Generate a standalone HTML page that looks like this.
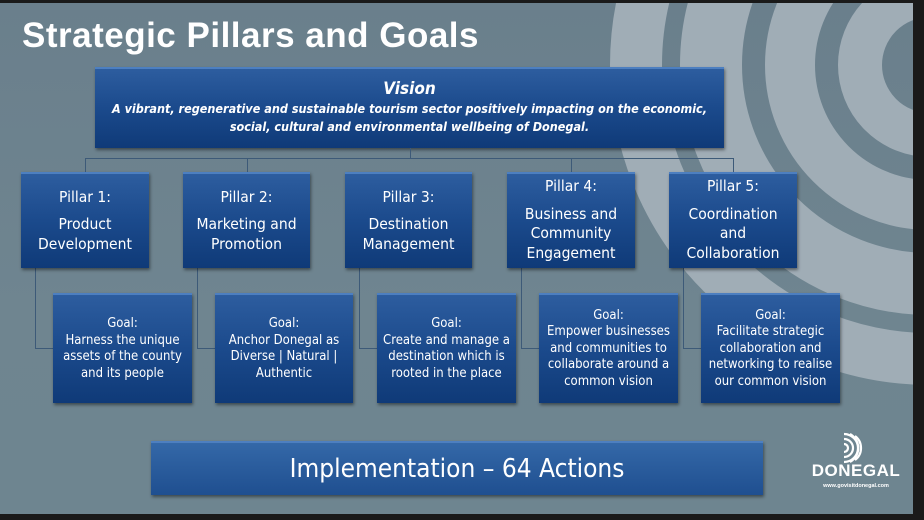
<!DOCTYPE html>
<html><head><meta charset="utf-8"><style>
*{margin:0;padding:0;box-sizing:border-box}
body{width:924px;height:520px;overflow:hidden;background:#1a1a1a;position:relative;font-family:"Liberation Sans",sans-serif}
#slide{position:absolute;left:0;top:3px;width:913px;height:511px;background:linear-gradient(180deg,#6a7f8c 0%,#6f8590 60%,#6e8590 100%);overflow:hidden}
.box{position:absolute;background:linear-gradient(180deg,#2d5d9f 0%,#1b4a8c 50%,#0f3a78 100%);border-top:2px solid #4d7fc0;box-shadow:1px 2px 3px rgba(0,0,0,.45);color:#fff;text-align:center;font-family:"DejaVu Sans Condensed","Liberation Sans Narrow","Liberation Sans",sans-serif}
.pill{top:169px;height:96px;font-size:15.5px;line-height:19.5px;display:flex;flex-direction:column;justify-content:center}
.goal{top:290px;height:110px;font-size:13px;line-height:16.5px;display:flex;flex-direction:column;justify-content:center}
.ln{position:absolute;background:#3d5a78}
h1{position:absolute;left:22px;top:13px;font-size:35px;font-weight:bold;color:#fff;letter-spacing:.5px;white-space:nowrap}
</style></head><body>
<div id="slide">
<svg width="913" height="511" style="position:absolute;left:0;top:0">
<g fill="none" stroke="#a0adb6">
<circle cx="930" cy="62" r="70" stroke-width="44"/>
<circle cx="930" cy="62" r="140" stroke-width="50"/>
<circle cx="930" cy="62" r="219" stroke-width="62"/>
<circle cx="930" cy="62" r="294" stroke-width="52"/>
</g>
</svg>
<h1>Strategic Pillars and Goals</h1>
<div class="box" style="left:95px;top:64px;width:629px;height:81px;padding-top:10px">
<div style="font-size:17px;font-weight:bold;font-style:italic;line-height:21px">Vision</div>
<div style="font-size:12.5px;font-weight:bold;font-style:italic;line-height:18px">A vibrant, regenerative and sustainable tourism sector positively impacting on the economic,<br>social, cultural and environmental wellbeing of Donegal.</div>
</div>
<div class="ln" style="left:410px;top:145px;width:1px;height:11px"></div>
<div class="ln" style="left:85px;top:155px;width:649px;height:1px"></div>
<div class="ln" style="left:85px;top:155px;width:1px;height:14px"></div>
<div class="ln" style="left:247px;top:155px;width:1px;height:14px"></div>
<div class="ln" style="left:571px;top:155px;width:1px;height:14px"></div>
<div class="ln" style="left:733px;top:155px;width:1px;height:14px"></div>

<div class="ln" style="left:35px;top:265px;width:1px;height:80px"></div><div class="ln" style="left:35px;top:345px;width:18px;height:1px"></div>
<div class="ln" style="left:197px;top:265px;width:1px;height:80px"></div><div class="ln" style="left:197px;top:345px;width:18px;height:1px"></div>
<div class="ln" style="left:359px;top:265px;width:1px;height:80px"></div><div class="ln" style="left:359px;top:345px;width:18px;height:1px"></div>
<div class="ln" style="left:521px;top:265px;width:1px;height:80px"></div><div class="ln" style="left:521px;top:345px;width:18px;height:1px"></div>
<div class="ln" style="left:683px;top:265px;width:1px;height:80px"></div><div class="ln" style="left:683px;top:345px;width:18px;height:1px"></div>

<div class="box pill" style="left:21px;width:128px"><div>Pillar 1:</div><div style="margin-top:8px">Product<br>Development</div></div>
<div class="box pill" style="left:183px;width:127px"><div>Pillar 2:</div><div style="margin-top:8px">Marketing and<br>Promotion</div></div>
<div class="box pill" style="left:345px;width:127px"><div>Pillar 3:</div><div style="margin-top:8px">Destination<br>Management</div></div>
<div class="box pill" style="left:507px;width:128px;justify-content:flex-start;padding-top:3px"><div>Pillar 4:</div><div style="margin-top:8px">Business and<br>Community<br>Engagement</div></div>
<div class="box pill" style="left:669px;width:128px;justify-content:flex-start;padding-top:3px"><div>Pillar 5:</div><div style="margin-top:8px">Coordination<br>and<br>Collaboration</div></div>

<div class="box goal" style="left:53px;width:139px">Goal:<br>Harness the unique<br>assets of the county<br>and its people</div>
<div class="box goal" style="left:215px;width:138px">Goal:<br>Anchor Donegal as<br>Diverse | Natural |<br>Authentic</div>
<div class="box goal" style="left:377px;width:139px">Goal:<br>Create and manage a<br>destination which is<br>rooted in the place</div>
<div class="box goal" style="left:539px;width:139px">Goal:<br>Empower businesses<br>and communities to<br>collaborate around a<br>common vision</div>
<div class="box goal" style="left:701px;width:139px">Goal:<br>Facilitate strategic<br>collaboration and<br>networking to realise<br>our common vision</div>

<div class="box" style="left:151px;top:438px;width:612px;height:54px;font-size:26px;line-height:52px;background:linear-gradient(180deg,#3468a8,#1f4f90)">Implementation – 64 Actions</div>

<svg width="40" height="34" style="position:absolute;left:836px;top:428px" fill="none" stroke="#fff" stroke-width="2.2">
<path d="M8 3 A14 14 0 0 1 8 31"/><path d="M8 8 A9 9 0 0 1 8 26"/><path d="M8 13 A4 4 0 0 1 8 21"/>
<path d="M14 3 A16 16 0 0 1 14 31"/><path d="M19 5 A15 15 0 0 1 19 29"/>
</svg>
<div style="position:absolute;left:810px;top:458px;width:92px;text-align:center;color:#fff;font-weight:bold;font-size:17px;letter-spacing:.5px">DONEGAL</div>
<div style="position:absolute;left:810px;top:480px;width:92px;text-align:center;color:#fff;font-size:5.5px;font-weight:bold">www.govisitdonegal.com</div>
</div>
</body></html>
